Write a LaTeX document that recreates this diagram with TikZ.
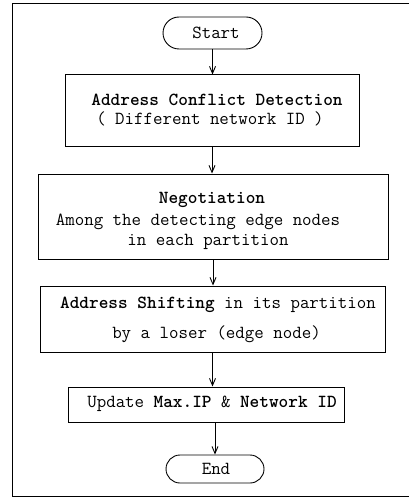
\documentclass[tikz,border=0pt]{standalone}
\usepackage{fontspec}
\usetikzlibrary{arrows.meta,shapes.misc}
\begin{document}
\begin{tikzpicture}[x=1pt,y=-1pt,
  every node/.style={font=\fontsize{18.4}{21}\selectfont\ttfamily},
  box/.style={draw, line width=1pt, inner sep=0pt},
  term/.style={draw, rounded rectangle, line width=0.9pt, inner sep=0pt},
  txt/.style={anchor=base, inner sep=0pt},
  arr/.style={line width=0.9pt, -{Straight Barb[length=7pt,width=6pt]}}]
\useasboundingbox (0,0) rectangle (409,497);
% outer frame
\draw[line width=1pt] (409,4) -- (12,4) -- (12,496) -- (409,496);
% terminals
\node[term, minimum width=99pt, minimum height=32pt] (start) at (212.5,33) {\hspace{7pt}Start};
\node[term, minimum width=98pt, minimum height=28pt] (end) at (215,469) {\hspace{2pt}End};
% boxes
\node[box, minimum width=294pt, minimum height=72pt] (b1) at (212,111) {};
\node[box, minimum width=350pt, minimum height=85pt] (b2) at (213,216.5) {};
\node[box, minimum width=345pt, minimum height=66pt] (b3) at (212.5,319) {};
\node[box, minimum width=276pt, minimum height=35pt] (b4) at (206,404.5) {};
% texts
\node[txt] (t1a) at (217,106) {\bfseries Address Conflict Detection};
\node[txt] (t1b) at (210,125) {( Different network ID )};
\node[txt] (t2a) at (212,203) {\bfseries Negotiation};
\node[txt] (t2b) at (198,225) {Among the detecting edge nodes};
\node[txt] (t2c) at (208,245) {in each partition};
\node[txt] (t3a) at (218,308) {\textbf{Address Shifting} in its partition};
\node[txt] (t3b) at (216.5,338) {by a loser (edge node)};
\node[txt] (t4) at (212,407) {Update \textbf{Max.IP} \& \textbf{Network ID}};
% connectors
\draw[arr] (start.south) -- (start.south |- b1.north);
\draw[arr] (b1.south) -- (b1.south |- b2.north);
\draw[arr] (b2.south) -- (b2.south |- b3.north);
\draw[arr] (b3.south) -- (b3.south |- b4.north);
\draw[arr] (end.north |- b4.south) -- (end.north);
\end{tikzpicture}
\end{document}
